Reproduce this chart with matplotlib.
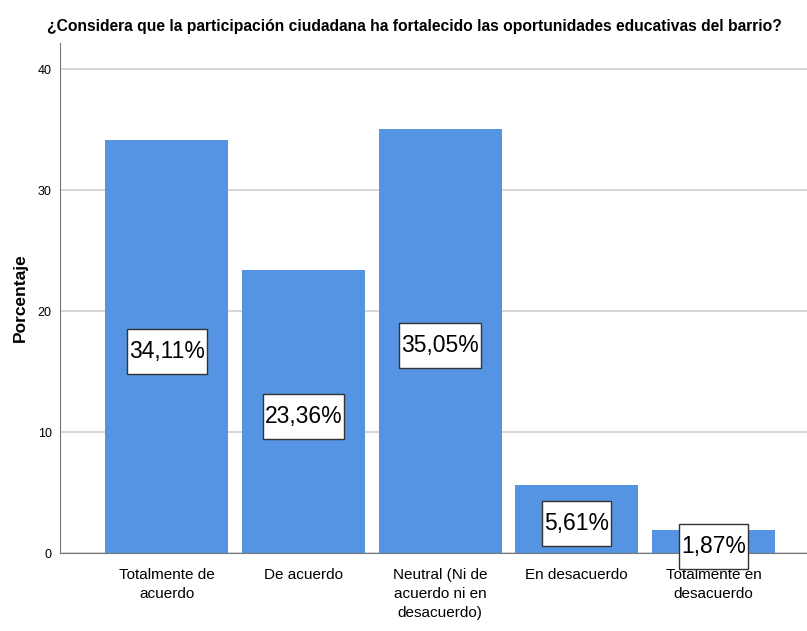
import matplotlib.pyplot as plt
from matplotlib.path import Path
import numpy as np

categories = ['Totalmente de\nacuerdo', 'De acuerdo', 'Neutral (Ni de\nacuerdo ni en\ndesacuerdo)',
              'En desacuerdo', 'Totalmente en\ndesacuerdo']
porcentajes = [34.11, 23.36, 35.05, 5.61, 1.87]
etiquetas = ['34,11%', '23,36%', '35,05%', '5,61%', '1,87%']
yticks = [0, 10, 20, 30, 40]
titulo = '¿Considera que la participación ciudadana ha fortalecido las oportunidades educativas del barrio?'

font = ['Liberation Sans', 'DejaVu Sans']


def label_box(x0, y0, width, height, mutation_size):
    # wider vertical padding than horizontal, like the SPSS value labels
    px, py = 2, 11
    x0, y0 = x0 - px, y0 - py
    x1, y1 = x0 + width + 2 * px, y0 + height + 2 * py
    return Path([(x0, y0), (x1, y0), (x1, y1), (x0, y1), (x0, y0)], closed=True)


fig = plt.figure(figsize=(8.07, 6.31), dpi=100)
ax = fig.add_axes([60 / 807, 1 - 553 / 631, 1 - 60 / 807, (553 - 43) / 631])

x = np.arange(len(categories))
ax.bar(x, porcentajes, width=0.9, color='#5594e2', zorder=2)
ax.set_xlim(-0.78, 4.684)
ax.set_ylim(0, 42.15)

for xi, v, t in zip(x, porcentajes, etiquetas):
    ax.text(xi, v / 2 - 0.4, t, ha='center', va='center', fontsize=16.5, family=font, zorder=3,
            bbox=dict(boxstyle=label_box, fc='white', ec='#333333', lw=1))

ax.set_yticks(yticks)
ax.set_yticklabels([str(t) for t in yticks], family=font, fontsize=9)
ax.yaxis.grid(True, color='#cfcfcf', lw=1.2, zorder=0)
ax.tick_params(axis='y', length=0, pad=6)
ax.set_xticks(x)
ax.set_xticklabels(categories, family=font, fontsize=11, linespacing=1.45)
ax.tick_params(axis='x', length=0, pad=11)

for s in ['top', 'right']:
    ax.spines[s].set_visible(False)
ax.spines['left'].set_color('#777777')
ax.spines['bottom'].set_color('#777777')

ax.set_ylabel('Porcentaje', fontsize=12.5, fontweight='bold', family=font)
ax.yaxis.set_label_coords(-(60 - 28) / 747, 0.5)

title = fig.text(47 / 807, 1 - 27 / 631, titulo, fontsize=12, fontweight='bold', family=font,
                 va='center', ha='left')
renderer = fig.canvas.get_renderer()
w = title.get_window_extent(renderer).width
title.set_fontsize(12 * 733 / w)

fig.savefig('out.png', dpi=100)
